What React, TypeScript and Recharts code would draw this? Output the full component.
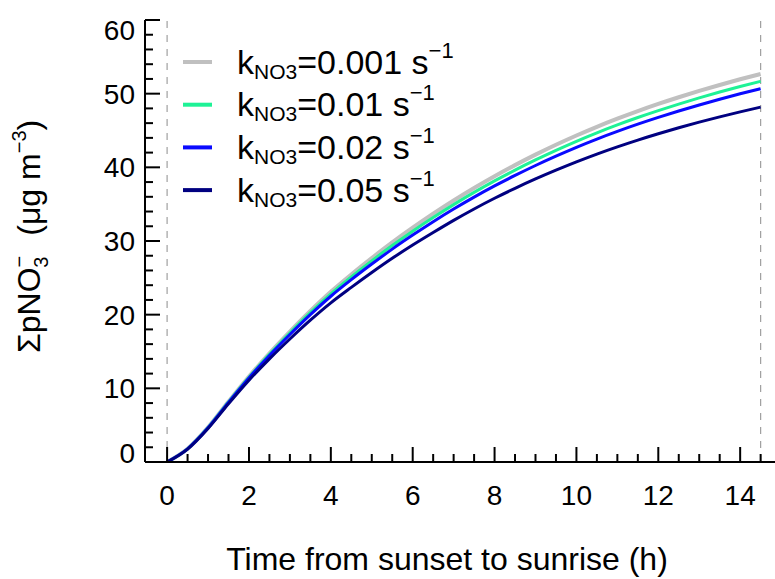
import { LineChart, Line, XAxis, YAxis, ReferenceLine } from 'recharts'

// hours after sunset
const hours = [0, 0.5, 1, 1.5, 2, 2.5, 3, 3.5, 4, 4.5, 5, 5.5, 6, 6.5, 7, 7.5, 8, 8.5, 9, 9.5, 10, 10.5, 11, 11.5, 12, 12.5, 13, 13.5, 14, 14.5]

// ΣpNO3- (µg m-3) for each k_NO3
const k0001 = [0, 1.8, 4.7, 8.2, 11.6, 14.75, 17.7, 20.5, 23.1, 25.45, 27.67, 29.8, 31.8, 33.7, 35.5, 37.2, 38.8, 40.3, 41.72, 43.06, 44.32, 45.5, 46.6, 47.63, 48.6, 49.51, 50.37, 51.18, 51.95, 52.67]
const k001 = [0, 1.79, 4.67, 8.14, 11.5, 14.61, 17.52, 20.28, 22.83, 25.13, 27.3, 29.38, 31.33, 33.18, 34.94, 36.6, 38.16, 39.62, 41.0, 42.31, 43.54, 44.69, 45.76, 46.76, 47.7, 48.59, 49.43, 50.22, 50.97, 51.67]
const k002 = [0, 1.78, 4.64, 8.08, 11.4, 14.45, 17.3, 20.0, 22.5, 24.75, 26.87, 28.9, 30.8, 32.62, 34.34, 35.96, 37.48, 38.9, 40.25, 41.52, 42.72, 43.84, 44.88, 45.86, 46.78, 47.65, 48.47, 49.24, 49.98, 50.67]
const k005 = [0, 1.75, 4.55, 7.9, 11.1, 14.0, 16.7, 19.25, 21.6, 23.7, 25.72, 27.65, 29.45, 31.15, 32.8, 34.35, 35.8, 37.15, 38.42, 39.61, 40.74, 41.8, 42.78, 43.7, 44.56, 45.37, 46.13, 46.85, 47.53, 48.17]

const rateLabels = ['0.001', '0.01', '0.02', '0.05']
const seriesKeys = ['k0001', 'k001', 'k002', 'k005']
const seriesColors = ['#c0c0c0', '#1ef296', '#0a0aff', '#000080']
const seriesWidths = [4, 3, 3, 3]

const xMajor = [0, 2, 4, 6, 8, 10, 12, 14]
const xTicks = [0, 0.5, 1, 1.5, 2, 2.5, 3, 3.5, 4, 4.5, 5, 5.5, 6, 6.5, 7, 7.5, 8, 8.5, 9, 9.5, 10, 10.5, 11, 11.5, 12, 12.5, 13, 13.5, 14, 14.5]
const yMajor = [0, 10, 20, 30, 40, 50, 60]
const yTicks = [0, 2, 4, 6, 8, 10, 12, 14, 16, 18, 20, 22, 24, 26, 28, 30, 32, 34, 36, 38, 40, 42, 44, 46, 48, 50, 52, 54, 56, 58, 60]
const sunsetSunrise = [0, 14.5]

const data = hours.map((t, i) => ({
  t,
  k0001: k0001[i],
  k001: k001[i],
  k002: k002[i],
  k005: k005[i],
}))

const FONT = '"Liberation Sans", Arial, Helvetica, sans-serif'
const MAJOR = 15
const MINOR = 8

function BottomTick(props: any) {
  const { x, y, payload } = props
  const major = xMajor.includes(payload.value)
  return (
    <g>
      <line x1={x} x2={x} y1={y} y2={y - (major ? MAJOR : MINOR)} stroke="#000" strokeWidth={2} />
      {major && (
        <text x={x} y={y + 43} textAnchor="middle" fontSize={28} fontFamily={FONT} fill="#000">
          {payload.value}
        </text>
      )}
    </g>
  )
}

function TopTick(props: any) {
  const { x, y, payload } = props
  const major = xMajor.includes(payload.value)
  return <line x1={x} x2={x} y1={y} y2={y + (major ? MAJOR : MINOR)} stroke="#000" strokeWidth={2} />
}

function LeftTick(props: any) {
  const { x, y, payload } = props
  const major = yMajor.includes(payload.value)
  // keep end labels inside the axis range
  let shift = 10
  if (payload.value === 60) shift = 20
  if (payload.value === 0) shift = 1
  return (
    <g>
      <line x1={x} x2={x + (major ? MAJOR : MINOR)} y1={y} y2={y} stroke="#000" strokeWidth={2} />
      {major && (
        <text x={x - 10} y={y + shift} textAnchor="end" fontSize={28} fontFamily={FONT} fill="#000">
          {payload.value}
        </text>
      )}
    </g>
  )
}

function RightTick(props: any) {
  const { x, y, payload } = props
  const major = yMajor.includes(payload.value)
  return <line x1={x} x2={x - (major ? MAJOR : MINOR)} y1={y} y2={y} stroke="#000" strokeWidth={2} />
}

function Overlay() {
  return (
    <svg width={775} height={579} style={{ position: 'absolute', left: 0, top: 0, pointerEvents: 'none' }}>
      {rateLabels.map((r, i) => {
        const cy = 62 + i * 42.7
        return (
          <g key={r}>
            <line x1={183} x2={212} y1={cy} y2={cy} stroke={seriesColors[i]} strokeWidth={4} />
            <text x={237} y={cy + 11.5} fontSize={34} fontFamily={FONT} fill="#000">
              k
              <tspan fontSize={21} dy={5}>NO3</tspan>
              <tspan fontSize={34} dy={-5}>={r} s</tspan>
              <tspan fontSize={22} dy={-16}>−1</tspan>
            </text>
          </g>
        )
      })}
      <text x={447} y={570} textAnchor="middle" fontSize={32} fontFamily={FONT} fill="#000">
        Time from sunset to sunrise (h)
      </text>
      <text transform="translate(40,353) rotate(-90)" fontSize={32} fontFamily={FONT} fill="#000">
        ΣpNO
        <tspan fontSize={20} dy={-14}>−</tspan>
        <tspan fontSize={20} dx={-12} dy={22}>3</tspan>
        <tspan fontSize={32} dx={12} dy={-8}> (μg m</tspan>
        <tspan fontSize={20} dy={-14}>−3</tspan>
        <tspan fontSize={32} dy={14}>)</tspan>
      </text>
    </svg>
  )
}

export default function App() {
  return (
    <div style={{ position: 'absolute', left: 0, top: 0, width: 775, height: 579, overflow: 'hidden', background: '#fff' }}>
      <LineChart width={790} height={579} data={data} margin={{ top: 20, right: 13, bottom: 0, left: 0 }}>
        <XAxis
          xAxisId="bottom"
          dataKey="t"
          type="number"
          domain={[-0.54, 14.9]}
          allowDataOverflow
          ticks={xTicks}
          interval={0}
          height={117}
          tickSize={0}
          tickMargin={0}
          tickLine={false}
          axisLine={{ stroke: '#000', strokeWidth: 2 }}
          tick={<BottomTick />}
        />
        <XAxis
          xAxisId="top"
          orientation="top"
          dataKey="t"
          type="number"
          domain={[-0.54, 14.9]}
          allowDataOverflow
          ticks={xTicks}
          interval={0}
          height={0}
          tickSize={0}
          tickMargin={0}
          tickLine={false}
          axisLine={{ stroke: '#000', strokeWidth: 2 }}
          tick={<TopTick />}
        />
        <YAxis
          yAxisId="left"
          type="number"
          domain={[0, 60]}
          allowDataOverflow
          ticks={yTicks}
          interval={0}
          width={145}
          tickSize={0}
          tickMargin={0}
          tickLine={false}
          axisLine={{ stroke: '#000', strokeWidth: 2 }}
          tick={<LeftTick />}
        />
        <YAxis
          yAxisId="right"
          orientation="right"
          type="number"
          domain={[0, 60]}
          allowDataOverflow
          ticks={yTicks}
          interval={0}
          width={0}
          tickSize={0}
          tickMargin={0}
          tickLine={false}
          axisLine={{ stroke: '#000', strokeWidth: 2 }}
          tick={<RightTick />}
        />
        {sunsetSunrise.map((h) => (
          <ReferenceLine key={h} xAxisId="bottom" yAxisId="left" x={h} stroke="#a0a0a0" strokeWidth={1.2} strokeDasharray="7 7" />
        ))}
        {seriesKeys.map((k, i) => (
          <Line
            key={k}
            xAxisId="bottom"
            yAxisId="left"
            dataKey={k}
            type="monotone"
            stroke={seriesColors[i]}
            strokeWidth={seriesWidths[i]}
            dot={false}
            isAnimationActive={false}
          />
        ))}
      </LineChart>
      <Overlay />
    </div>
  )
}
